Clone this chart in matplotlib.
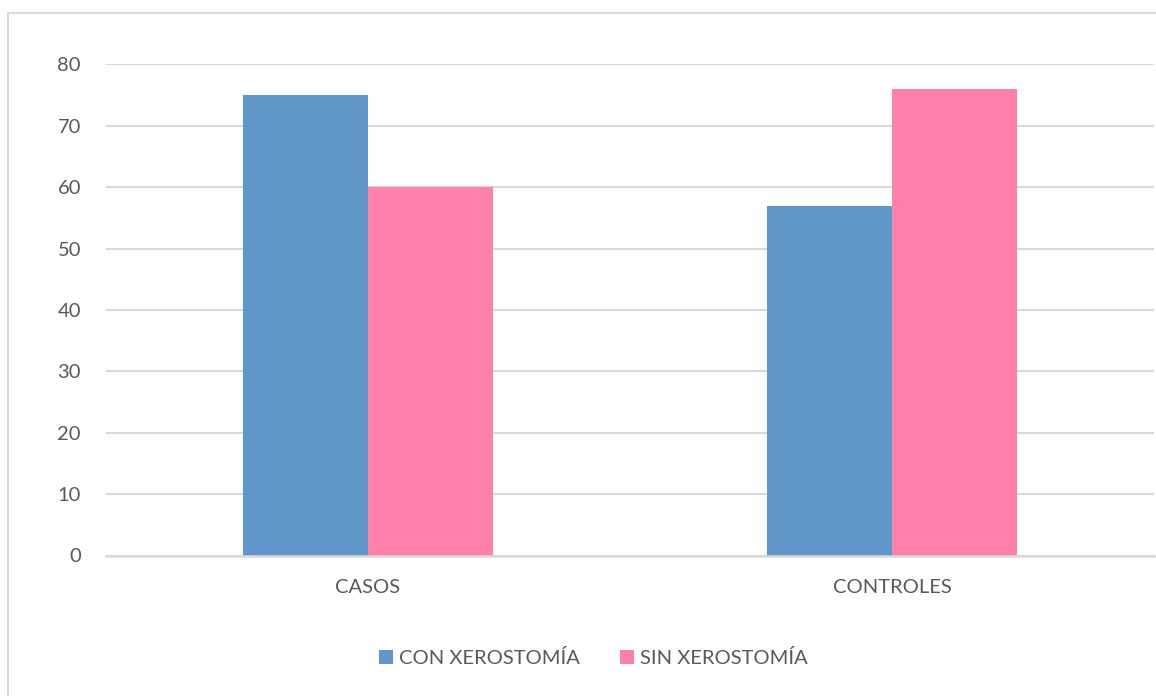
import matplotlib
matplotlib.use("Agg")
import matplotlib.pyplot as plt
from matplotlib.patches import Rectangle
import numpy as np

# datos
grupos = ["CASOS", "CONTROLES"]
con_xerostomia = [75, 57]
sin_xerostomia = [60, 76]
series = ["CON XEROSTOMÍA", "SIN XEROSTOMÍA"]
yticks = [0, 10, 20, 30, 40, 50, 60, 70, 80]

azul = "#6096CA"
rosa = "#FF80A8"
gris_txt = "#595959"
gris_lin = "#D9D9D9"

plt.rcParams["font.family"] = ["Lato", "DejaVu Sans"]

W, H = 1156, 696
fig = plt.figure(figsize=(W / 100, H / 100), dpi=100)
ax = fig.add_axes([106 / W, (H - 555.5) / H, (1154 - 106) / W, (555.5 - 64.3) / H])

x = np.arange(len(grupos))
ancho = 0.2385
b1 = ax.bar(x - ancho / 2, con_xerostomia, ancho, color=azul, label=series[0], zorder=3)
b2 = ax.bar(x + ancho / 2, sin_xerostomia, ancho, color=rosa, label=series[1], zorder=3)

ax.set_xlim(-0.5, 1.5)
ax.set_ylim(0, 80)
ax.set_yticks(yticks)
ax.set_xticks(x)
ax.set_xticklabels(grupos)
ax.yaxis.grid(True, color=gris_lin, linewidth=1.5, zorder=0)
ax.tick_params(axis="both", length=0, labelsize=14.5, labelcolor=gris_txt)
ax.tick_params(axis="y", pad=18)
ax.tick_params(axis="x", pad=17)
for s in ["top", "right", "left"]:
    ax.spines[s].set_visible(False)
ax.spines["bottom"].set_color(gris_lin)
ax.spines["bottom"].set_linewidth(1.8)
ax.spines["bottom"].set_zorder(4)

# marco exterior del gráfico
fig.patches.append(Rectangle((7.5 / W, -0.1), 1.2, (H - 12.5) / H + 0.1,
                             transform=fig.transFigure, fill=False,
                             edgecolor=gris_lin, linewidth=1.5))

fig.legend(handles=[b1, b2], loc="center", bbox_to_anchor=(593.5 / W, (H - 658) / H),
           ncol=2, frameon=False, fontsize=14.5, labelcolor=gris_txt,
           handlelength=0.7, handleheight=0.7, handletextpad=0.3, columnspacing=2.0)

fig.savefig("out.png", dpi=100)
